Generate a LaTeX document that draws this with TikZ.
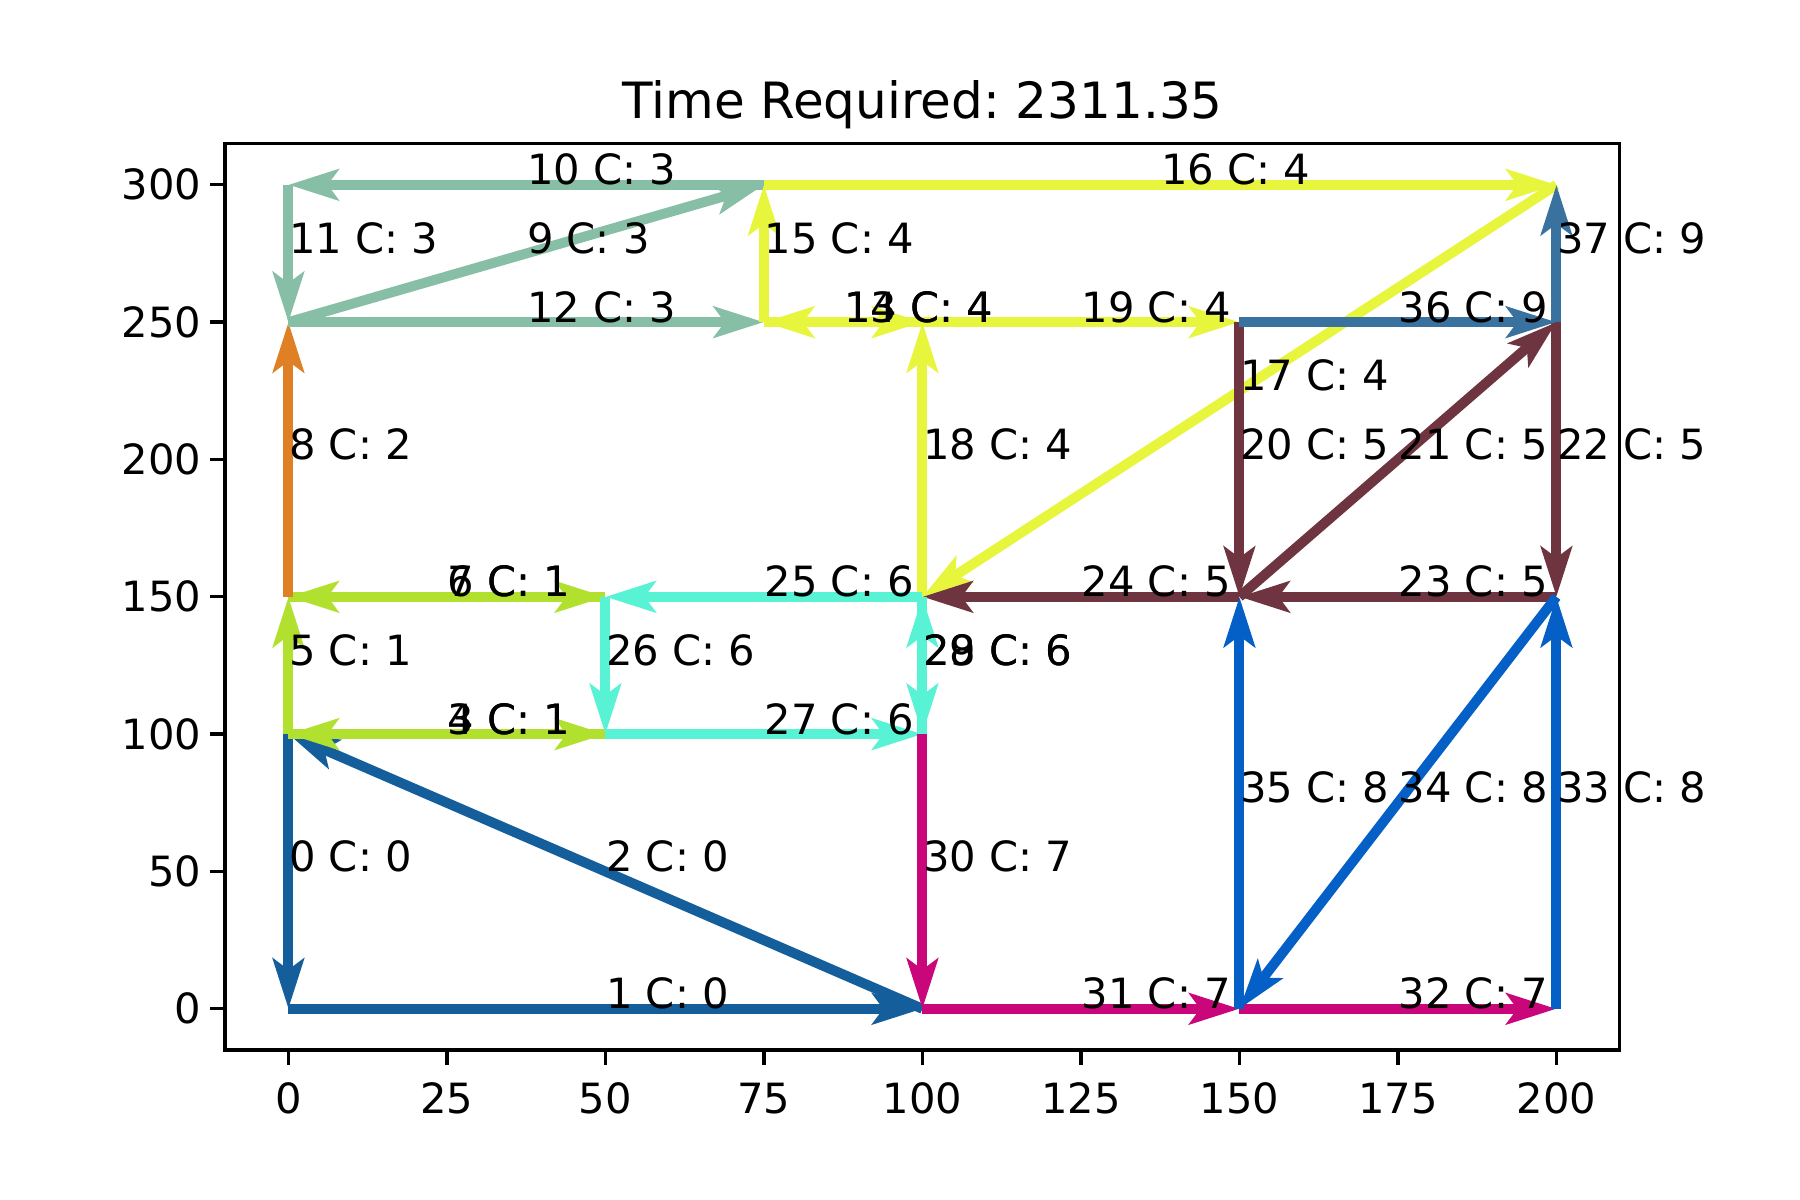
\documentclass[tikz,border=0pt]{standalone}
\usepackage{fontspec}
\setmainfont{DejaVu Sans}
\usetikzlibrary{arrows.meta,calc}
\definecolor{cA}{HTML}{155E9C}
\definecolor{cB}{HTML}{B2E02E}
\definecolor{cC}{HTML}{E08024}
\definecolor{cD}{HTML}{87BFA6}
\definecolor{cE}{HTML}{E8F53D}
\definecolor{cF}{HTML}{6E3540}
\definecolor{cG}{HTML}{58F2D4}
\definecolor{cH}{HTML}{C9077A}
\definecolor{cI}{HTML}{045FC6}
\definecolor{cJ}{HTML}{3A729F}
\frenchspacing
\begin{document}
\begin{tikzpicture}[
  edge/.style={line width=2.4pt, -{Stealth[length=12pt,width=7.4pt,inset=2.6pt]}},
  lbl/.style={anchor=base west, inner sep=0pt, font=\fontsize{10bp}{12bp}\selectfont},
  tickline/.style={line width=0.8bp},
  ticklbl/.style={inner sep=0pt, font=\fontsize{10bp}{12bp}\selectfont},
  frameline/.style={line width=0.8bp},
]
\fill[white] (0,0) rectangle (6in,4in);
\useasboundingbox (0,0) rectangle (6in,4in);
\node[anchor=base, inner sep=0pt, font=\fontsize{12bp}{14bp}\selectfont] (title) at (3.075in,3.6033in) {Time Required: 2311.35};
\begin{scope}[shift={(0.9614in,0.6373in)}, x=0.021136in, y=0.0091517in]
  \foreach \X in {0,50,75,100,150,200}
    \foreach \Y in {0,100,150,250,300}
      {\coordinate (v\X-\Y) at (\X,\Y);}
  \coordinate (axSW) at (-10,-15);
  \coordinate (axNE) at (210,315);
  % edges
  \foreach \n/\a/\b/\c/\k in {
    0/v0-100/v0-0/cA/0, 1/v0-0/v100-0/cA/0, 2/v100-0/v0-100/cA/0,
    3/v0-100/v50-100/cB/1, 4/v50-100/v0-100/cB/1, 5/v0-100/v0-150/cB/1,
    6/v0-150/v50-150/cB/1, 7/v50-150/v0-150/cB/1,
    8/v0-150/v0-250/cC/2,
    9/v0-250/v75-300/cD/3, 10/v75-300/v0-300/cD/3, 11/v0-300/v0-250/cD/3, 12/v0-250/v75-250/cD/3,
    13/v75-250/v100-250/cE/4, 14/v100-250/v75-250/cE/4, 15/v75-250/v75-300/cE/4,
    16/v75-300/v200-300/cE/4, 17/v200-300/v100-150/cE/4, 18/v100-150/v100-250/cE/4,
    19/v100-250/v150-250/cE/4,
    20/v150-250/v150-150/cF/5, 21/v150-150/v200-250/cF/5, 22/v200-250/v200-150/cF/5,
    23/v200-150/v150-150/cF/5, 24/v150-150/v100-150/cF/5,
    25/v100-150/v50-150/cG/6, 26/v50-150/v50-100/cG/6, 27/v50-100/v100-100/cG/6,
    28/v100-100/v100-150/cG/6, 29/v100-150/v100-100/cG/6,
    30/v100-100/v100-0/cH/7, 31/v100-0/v150-0/cH/7, 32/v150-0/v200-0/cH/7,
    33/v200-0/v200-150/cI/8, 34/v200-150/v150-0/cI/8, 35/v150-0/v150-150/cI/8,
    36/v150-250/v200-250/cJ/9, 37/v200-250/v200-300/cJ/9}
    {\draw[edge,\c] (\a) -- (\b);}
  % frame and ticks
  \draw[frameline] (axSW) rectangle (axNE);
  \foreach \X in {0,25,...,200}{
    \draw[tickline] (\X,-15) -- ++(0,-3.5bp);
    \node[ticklbl, anchor=north] (xt\X) at ([yshift=-7.7bp]\X,-15) {\X};
  }
  \foreach \Y in {0,50,...,300}{
    \draw[tickline] (-10,\Y) -- ++(-3.5bp,0);
    \node[ticklbl, anchor=east] (yt\Y) at ([xshift=-5.5bp]-10,\Y) {\Y};
  }
  % labels
  \foreach \n/\a/\b/\k in {
    0/v0-100/v0-0/0, 1/v0-0/v100-0/0, 2/v100-0/v0-100/0,
    3/v0-100/v50-100/1, 4/v50-100/v0-100/1, 5/v0-100/v0-150/1,
    6/v0-150/v50-150/1, 7/v50-150/v0-150/1,
    8/v0-150/v0-250/2,
    9/v0-250/v75-300/3, 10/v75-300/v0-300/3, 11/v0-300/v0-250/3, 12/v0-250/v75-250/3,
    13/v75-250/v100-250/4, 14/v100-250/v75-250/4, 15/v75-250/v75-300/4,
    16/v75-300/v200-300/4, 17/v200-300/v100-150/4, 18/v100-150/v100-250/4,
    19/v100-250/v150-250/4,
    20/v150-250/v150-150/5, 21/v150-150/v200-250/5, 22/v200-250/v200-150/5,
    23/v200-150/v150-150/5, 24/v150-150/v100-150/5,
    25/v100-150/v50-150/6, 26/v50-150/v50-100/6, 27/v50-100/v100-100/6,
    28/v100-100/v100-150/6, 29/v100-150/v100-100/6,
    30/v100-100/v100-0/7, 31/v100-0/v150-0/7, 32/v150-0/v200-0/7,
    33/v200-0/v200-150/8, 34/v200-150/v150-0/8, 35/v150-0/v150-150/8,
    36/v150-250/v200-250/9, 37/v200-250/v200-300/9}
    {\node[lbl] (l\n) at ($(\a)!0.5!(\b)$) {\n{} C: \k};}
\end{scope}
\end{tikzpicture}
\end{document}
